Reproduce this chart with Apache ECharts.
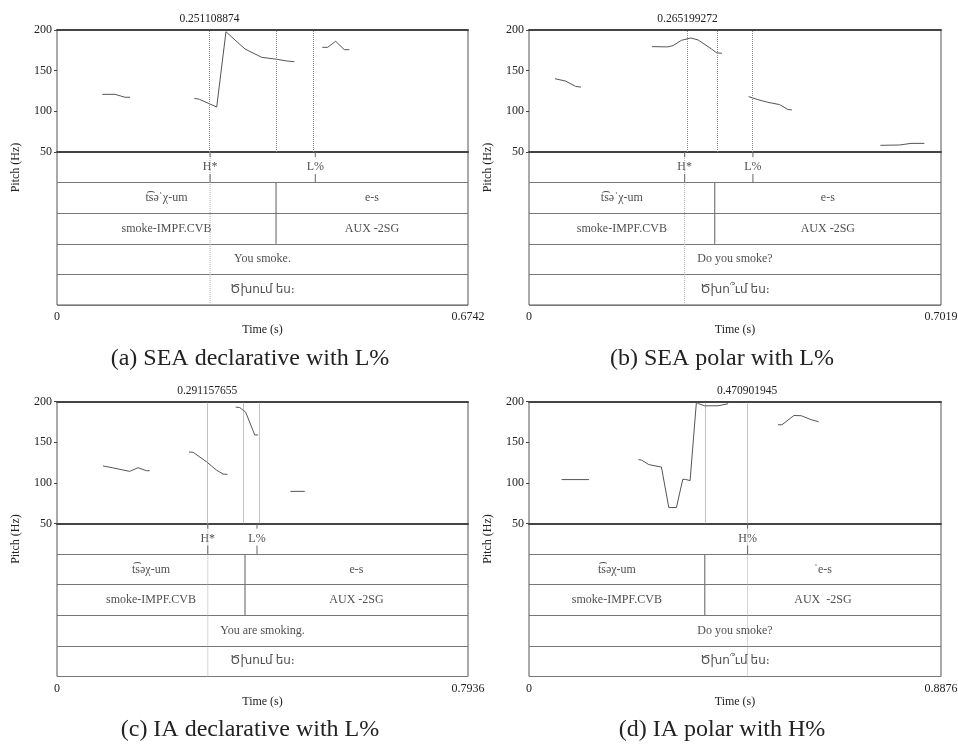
<!DOCTYPE html>
<html>
<head>
<meta charset="utf-8">
<style>
  html, body { margin: 0; padding: 0; background: #fff; }
  #chart { width: 958px; height: 745px; }
</style>
<script src="https://cdn.jsdelivr.net/npm/echarts@6/dist/echarts.min.js"></script>
</head>
<body>
<div id="chart"></div>
<script>
// ---- data ----
const durations = [0.6742, 0.7019, 0.7936, 0.8876]
const captions = ['(a) SEA declarative with L%', '(b) SEA polar with L%', '(c) IA declarative with L%', '(d) IA polar with H%']

// pitch tracks [time (s), Hz], one array per voiced stretch
const pitchA = [
  [[0.0743, 120.9], [0.0951, 120.9], [0.1115, 117.3], [0.1198, 117.3]],
  [[0.2252, 116.0], [0.2334, 114.8], [0.2620, 105.3], [0.2772, 197.9], [0.2920, 187.7], [0.3084, 176.6], [0.3358, 166.4], [0.3604, 164.0], [0.3768, 161.9], [0.3893, 161.0]],
  [[0.4352, 178.7], [0.4440, 178.7], [0.4572, 186.1], [0.4713, 175.8], [0.4795, 175.8]]
]
const pitchB = [
  [[0.0442, 140.1], [0.0623, 137.2], [0.0793, 130.7], [0.0885, 129.8]],
  [[0.2097, 179.6], [0.2358, 179.2], [0.2455, 180.8], [0.2596, 187.3], [0.2756, 190.2], [0.2880, 187.8], [0.3106, 176.8], [0.3198, 171.9], [0.3288, 171.4]],
  [[0.3742, 118.1], [0.3900, 114.4], [0.4070, 111.1], [0.4269, 108.3], [0.4411, 102.2], [0.4479, 101.7]],
  [[0.5987, 58.2], [0.6311, 58.6], [0.6508, 60.6], [0.6736, 60.6]]
]
const pitchC = [
  [[0.0888, 120.7], [0.1004, 119.4], [0.1404, 114.1], [0.1564, 118.6], [0.1726, 114.9], [0.1790, 114.9]],
  [[0.2549, 137.9], [0.2626, 137.6], [0.2885, 126.0], [0.3078, 115.7], [0.3205, 110.8], [0.3290, 110.4]],
  [[0.3450, 193.1], [0.3528, 192.6], [0.3643, 186.9], [0.3785, 164.2], [0.3817, 158.9], [0.3881, 158.9]],
  [[0.4507, 89.5], [0.4783, 89.5]]
]
const pitchD = [
  [[0.0702, 104.0], [0.1291, 104.0]],
  [[0.2358, 128.5], [0.2423, 128.0], [0.2582, 122.4], [0.2853, 119.4], [0.3012, 69.6], [0.3176, 69.6], [0.3313, 104.3], [0.3369, 104.3], [0.3470, 102.7], [0.3606, 198.8], [0.3658, 197.2], [0.3787, 194.7], [0.4073, 194.7], [0.4288, 197.2]],
  [[0.5364, 171.4], [0.5450, 171.4], [0.5708, 182.8], [0.5865, 182.5], [0.6080, 177.6], [0.6239, 175.1]]
]
const pitchTracks = [pitchA, pitchB, pitchC, pitchD]

// cursor time printed above each picture
const cursorTimes = [0.251108874, 0.265199272, 0.291157655, 0.470901945]

// tone tier points [time, label]
const toneA = [[0.251108874, 'H*'], [0.4237, 'L%']]
const toneB = [[0.265199272, 'H*'], [0.3815, 'L%']]
const toneC = [[0.291157655, 'H*'], [0.3862, 'L%']]
const toneD = [[0.470901945, 'H%']]
const toneTiers = [toneA, toneB, toneC, toneD]

// boundary between the two words
const wordBoundaries = [0.3593, 0.3164, 0.3630, 0.3787]
const words = [
  ['t͡səˈχ-um', 'e-s'],
  ['t͡səˈχ-um', 'e-s'],
  ['t͡səχ-um', 'e-s'],
  ['t͡səχ-um', 'ˈe-s']
]
const glosses = [
  ['smoke-IMPF.CVB', 'AUX -2SG'],
  ['smoke-IMPF.CVB', 'AUX -2SG'],
  ['smoke-IMPF.CVB', 'AUX -2SG'],
  ['smoke-IMPF.CVB', 'AUX  -2SG']
]
const translations = ['You smoke.', 'Do you smoke?', 'You are smoking.', 'Do you smoke?']
const armenian = ['Ծխում ես։', 'Ծխո՞ւմ ես։', 'Ծխում ես։', 'Ծխո՞ւմ ես։']

// ---- layout ----
const serif = '"Liberation Serif", "DejaVu Sans", serif'
const boxes = [
  { left: 57, width: 411, top: 30 },
  { left: 529, width: 412, top: 30 },
  { left: 57, width: 411, top: 401.5 },
  { left: 529, width: 412, top: 401.5 }
]
const pitchH = 122
const tierH = 153
const captionPos = [[250, 359], [722, 359], [250, 730], [722, 730]]

const grid = []
const xAxis = []
const yAxis = []
const series = []
const graphic = []

const txt = { fontFamily: serif, fontSize: 12, color: '#222' }

boxes.forEach((b, i) => {
  const dur = durations[i]
  const pg = 2 * i
  const tg = 2 * i + 1
  grid.push({ left: b.left, top: b.top, width: b.width, height: pitchH, show: true, borderColor: '#555', borderWidth: 1, outerBoundsMode: 'none' })
  grid.push({ left: b.left, top: b.top + pitchH, width: b.width, height: tierH, show: true, borderColor: '#555', borderWidth: 1, outerBoundsMode: 'none' })

  xAxis.push({
    gridIndex: pg, type: 'value', min: 0, max: dur, position: 'top',
    axisLine: { show: true, lineStyle: { color: '#444', width: 2 } },
    axisTick: { show: false }, axisLabel: { show: false }, splitLine: { show: false }
  })
  xAxis.push({
    gridIndex: tg, type: 'value', min: 0, max: dur, interval: dur,
    axisLine: { show: true, lineStyle: { color: '#444', width: 2 } },
    axisTick: { show: false },
    axisLabel: Object.assign({ margin: 6, formatter: v => (v === 0 ? '0' : String(dur)) }, txt),
    splitLine: { show: false },
    name: 'Time (s)', nameLocation: 'middle', nameGap: 19,
    nameTextStyle: txt
  })
  yAxis.push({
    gridIndex: pg, type: 'value', min: 50, max: 200, interval: 50,
    axisLine: { show: false },
    axisTick: { show: true, length: 3, lineStyle: { color: '#444' } },
    axisLabel: Object.assign({ margin: 5 }, txt),
    splitLine: { show: false }
  })
  yAxis.push({
    gridIndex: tg, type: 'value', min: 0, max: 5, interval: 1, inverse: true,
    axisLine: { show: false }, axisTick: { show: false }, axisLabel: { show: false },
    splitLine: { show: true, lineStyle: { color: '#777', width: 1 } }
  })

  // dotted guide lines over the pitch area
  const guides = toneTiers[i].map(p => p[0]).concat([wordBoundaries[i]])
  const markData = guides.map(t => {
    const item = { xAxis: t }
    if (t === cursorTimes[i]) {
      item.label = Object.assign({ show: true, position: 'end', distance: 5, formatter: String(cursorTimes[i]) }, txt, { fontSize: 11.5 })
    }
    return item
  })

  pitchTracks[i].forEach((seg, k) => {
    const s = {
      type: 'line', xAxisIndex: pg, yAxisIndex: pg, data: seg,
      showSymbol: false, silent: true, animation: false,
      lineStyle: { color: '#555', width: 1 }
    }
    if (k === 0) {
      s.markLine = {
        symbol: ['none', 'none'], silent: true, animation: false,
        lineStyle: { type: 'dotted', color: '#888', width: 1 },
        label: { show: false },
        data: markData
      }
    }
    series.push(s)
  })

  const tierLine = (data, style) => series.push({
    type: 'line', xAxisIndex: tg, yAxisIndex: tg, data: data,
    showSymbol: false, silent: true, animation: false, lineStyle: style
  })

  // cursor runs down through every tier
  tierLine([[cursorTimes[i], 0], [cursorTimes[i], 5]], { color: '#aaa', width: 1, type: 'dotted' })
  // word boundary in the word and gloss tiers
  tierLine([[wordBoundaries[i], 1], [wordBoundaries[i], 3]], { color: '#777', width: 1.2 })
  // point ticks in the tone tier
  toneTiers[i].forEach(p => {
    tierLine([[p[0], 0], [p[0], 0.17]], { color: '#666', width: 1 })
    tierLine([[p[0], 0.72], [p[0], 1]], { color: '#666', width: 1 })
  })

  const wb = wordBoundaries[i]
  const labels = [
    ...toneTiers[i].map(p => ({ value: [p[0], 0.5], name: p[1] })),
    { value: [wb / 2, 1.5], name: words[i][0] },
    { value: [(wb + dur) / 2, 1.5], name: words[i][1] },
    { value: [wb / 2, 2.5], name: glosses[i][0] },
    { value: [(wb + dur) / 2, 2.5], name: glosses[i][1] },
    { value: [dur / 2, 3.5], name: translations[i] },
    { value: [dur / 2, 4.5], name: armenian[i] }
  ]
  series.push({
    type: 'scatter', xAxisIndex: tg, yAxisIndex: tg, data: labels,
    symbolSize: 1, itemStyle: { color: 'rgba(0,0,0,0)' }, silent: true, animation: false,
    label: Object.assign({ show: true, position: 'inside', formatter: '{b}' }, txt)
  })

  graphic.push({
    type: 'text', x: b.left - 41, y: b.top + (pitchH + tierH) / 2, rotation: Math.PI / 2,
    style: { text: 'Pitch (Hz)', font: '12px ' + serif, fill: '#222', align: 'center', verticalAlign: 'middle' }
  })
  graphic.push({
    type: 'text', x: captionPos[i][0], y: captionPos[i][1],
    style: { text: captions[i], font: '24px ' + serif, fill: '#222', align: 'center', verticalAlign: 'middle' }
  })
})

const chart = echarts.init(document.getElementById('chart'))
chart.setOption({
  animation: false,
  grid,
  xAxis,
  yAxis,
  series,
  graphic
})
</script>
</body>
</html>
